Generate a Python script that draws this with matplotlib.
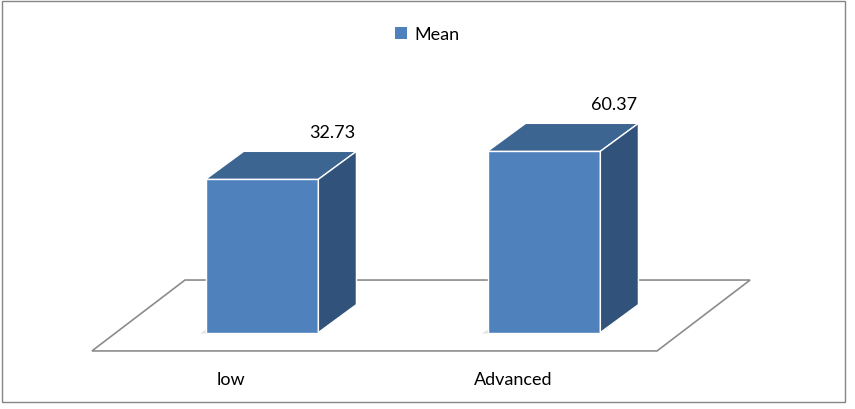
"""Mean score by level, drawn as an Excel-style 3D bar chart."""

import matplotlib
matplotlib.use('Agg')
from matplotlib import pyplot
from matplotlib.patches import Polygon, Rectangle, Patch
import numpy


categories = ['low', 'Advanced']
means = [32.73, 60.37]
series_name = 'Mean'

pyplot.rc('font', family=['Lato', 'DejaVu Sans'], size=13)

fig = pyplot.figure(figsize=(8.55, 4.10), dpi=100)
ax = fig.add_axes([0, 0, 1, 1])
ax.set_xlim(-0.929, 2.103)
ax.set_ylim(-194.0, 210.7)
ax.axis('off')

# Value at the floor of the 3D box, and the depth offset of the bars.
base = -118.5
width = 0.4
dx, dy = 0.135, 27.6
front, top, side = '#4F81BD', '#3D6591', '#31537B'

x = numpy.arange(len(categories))
vals = numpy.array(means)

# Floor of the chart (a parallelogram under the bars).
fy0, fy1 = base - 18.2, base + 51.8
fdx = 0.33
floor = Polygon([(x[0] - 0.603, fy0), (x[-1] + 0.401, fy0),
                 (x[-1] + 0.401 + fdx, fy1), (x[0] - 0.603 + fdx, fy1)],
                closed=True, facecolor='white', edgecolor='#8c8c8c',
                linewidth=1.2, zorder=0)
ax.add_patch(floor)

bars = ax.bar(x, vals - base, bottom=base, width=width, color=front,
              edgecolor='white', linewidth=1.0, zorder=3)

for xi, v, bar in zip(x, vals, bars):
    x0, x1 = bar.get_x(), bar.get_x() + bar.get_width()
    # soft shadow at the foot of the bar
    ax.add_patch(Polygon([(x0 - 0.02, base - 1), (x1, base - 1),
                          (x1 + dx * 0.8, base + dy * 0.8),
                          (x0 + dx * 0.8, base + dy * 0.8)],
                         closed=True, facecolor='#e4e4e4', edgecolor='none',
                         zorder=1))
    ax.add_patch(Polygon([(x0, v), (x0 + dx, v + dy), (x1 + dx, v + dy), (x1, v)],
                         closed=True, facecolor=top, edgecolor='white',
                         linewidth=1.0, zorder=4))
    ax.add_patch(Polygon([(x1, base), (x1, v), (x1 + dx, v + dy),
                          (x1 + dx, base + dy)],
                         closed=True, facecolor=side, edgecolor='white',
                         linewidth=1.0, zorder=4))
    ax.text(xi + 0.25, v + dy + 19, f'{v:.2f}', ha='center', va='center',
            color='black', zorder=5)

for xi, label in zip(x, categories):
    ax.text(xi - 0.11, base - 46, label, ha='center', va='center',
            color='black')

fig.legend(handles=[Patch(facecolor=front, edgecolor='none', label=series_name)],
           loc='center', bbox_to_anchor=(0.5, 1 - 35 / 410), frameon=False,
           handlelength=0.65, handleheight=0.65, handletextpad=0.4)

# Thin grey frame round the whole chart.
fig.add_artist(Rectangle((2 / 855, 7 / 410), 843 / 855, 401 / 410,
                         transform=fig.transFigure, fill=False,
                         edgecolor='#868686', linewidth=1.0))

fig.savefig('out.png', dpi=100)
